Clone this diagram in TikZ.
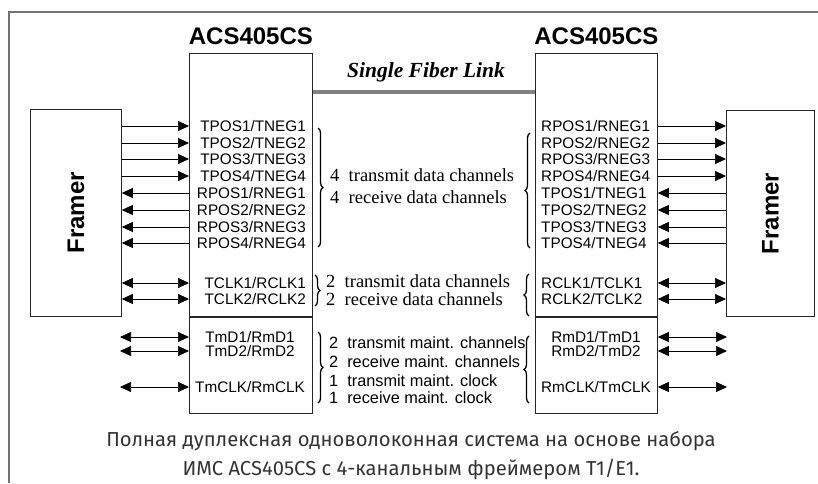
\documentclass[tikz,border=0pt]{standalone}
\usepackage{fontspec}
\setmainfont{Liberation Serif}
\newfontfamily\pinfont{Liberation Sans}
\newfontfamily\capfont{Fira Sans}
\usetikzlibrary{arrows.meta,decorations.pathreplacing,positioning}

\tikzset{
  box/.style={draw=black!85, line width=0.8pt, inner sep=0pt, anchor=north west},
  pin/.style={font=\pinfont\fontsize{15.3}{17}\selectfont, inner sep=0pt},
  sig/.style={line width=0.7pt, -{Triangle[length=11pt,width=10pt]}},
  bisig/.style={line width=0.7pt, {Triangle[length=11pt,width=10pt]}-{Triangle[length=11pt,width=10pt]}},
  brc/.style={decorate, decoration={brace, amplitude=5pt}, line width=1.3pt},
  note/.style={font=\fontsize{18.5}{20}\selectfont, anchor=west, inner sep=0pt},
  mnote/.style={font=\pinfont\fontsize{16.3}{18}\selectfont, anchor=west, inner sep=0pt},
  title/.style={font=\pinfont\bfseries\fontsize{24}{26}\selectfont, inner sep=0pt},
}

\begin{document}
\begin{tikzpicture}[x=1pt, y=-1pt]
\useasboundingbox (0,0) rectangle (818,483);
\draw[black!55, line width=1.5pt] (818,12) -- (9,12) -- (9,483);

% chips and framers
\node[box, minimum width=123pt, minimum height=263pt] (chipL) at (189,53) {};
\node[box, minimum width=123pt, minimum height=96pt] (mntL) at (chipL.south west) {};
\node[box, minimum width=122pt, minimum height=263pt] (chipR) at (535,53) {};
\node[box, minimum width=122pt, minimum height=96pt] (mntR) at (chipR.south west) {};
\node[box, minimum width=91pt, minimum height=207pt] (frL) at (30,109) {};
\node[box, minimum width=88pt, minimum height=206pt] (frR) at (726,110) {};
\node[title, rotate=90] (frLtxt) at (frL.center) {Framer};
\node[title, rotate=90] (frRtxt) at (frR.center) {Framer};
\node[title, above=8pt of chipL] (ttlL) {ACS405CS};
\node[title, above=8pt of chipR] (ttlR) {ACS405CS};

% fiber link
\node[font=\bfseries\itshape\fontsize{21.5}{22}\selectfont, inner sep=0pt] (fib) at (426,72) {Single Fiber Link};
\draw[line width=4pt, black!50] (chipL.east |- 0,92) -- (chipR.west |- 0,92);

% left data pins
\foreach \y/\a/\b [count=\i] in {126/TPOS1/TNEG1, 143/TPOS2/TNEG2, 159/TPOS3/TNEG3, 176/TPOS4/TNEG4}
  {\node[pin, anchor=east] (tl\i) at (306,\y) {\a/\b};
   \draw[sig] (frL.east |- tl\i) -- (chipL.west |- tl\i);}
\foreach \y/\a/\b [count=\i] in {193/RPOS1/RNEG1, 210/RPOS2/RNEG2, 227/RPOS3/RNEG3, 243/RPOS4/RNEG4}
  {\node[pin, anchor=east] (rl\i) at (306,\y) {\a/\b};
   \draw[sig] (chipL.west |- rl\i) -- (frL.east |- rl\i);}
\foreach \y/\a/\b [count=\i] in {283/TCLK1/RCLK1, 299/TCLK2/RCLK2}
  {\node[pin, anchor=east] (cl\i) at (306,\y) {\a/\b};
   \draw[bisig] (frL.east |- cl\i) -- (chipL.west |- cl\i);}

% right data pins
\foreach \y/\a/\b [count=\i] in {126/RPOS1/RNEG1, 143/RPOS2/RNEG2, 159/RPOS3/RNEG3, 176/RPOS4/RNEG4}
  {\node[pin, anchor=west] (rr\i) at (541,\y) {\a/\b};
   \draw[sig] (chipR.east |- rr\i) -- (frR.west |- rr\i);}
\foreach \y/\a/\b [count=\i] in {193/TPOS1/TNEG1, 210/TPOS2/TNEG2, 227/TPOS3/TNEG3, 243/TPOS4/TNEG4}
  {\node[pin, anchor=west] (tr\i) at (541,\y) {\a/\b};
   \draw[sig] (frR.west |- tr\i) -- (chipR.east |- tr\i);}
\foreach \y/\a/\b [count=\i] in {283/RCLK1/TCLK1, 299/RCLK2/TCLK2}
  {\node[pin, anchor=west] (cr\i) at (541,\y) {\a/\b};
   \draw[bisig] (chipR.east |- cr\i) -- (frR.west |- cr\i);}

% maintenance pins
\coordinate (mfL) at (120,0);
\coordinate (mfR) at (727,0);
\foreach \y/\a/\b [count=\i] in {337/TmD1/RmD1, 351/TmD2/RmD2, 387/TmCLK/RmCLK}
  {\node[pin] (ml\i) at (250,\y) {\a/\b};
   \draw[bisig] (mfL |- ml\i) -- (mntL.west |- ml\i);}
\foreach \y/\a/\b [count=\i] in {337/RmD1/TmD1, 351/RmD2/TmD2, 387/RmCLK/TmCLK}
  {\node[pin] (mr\i) at (596,\y) {\a/\b};
   \draw[bisig] (mntR.east |- mr\i) -- (mfR |- mr\i);}

% braces
\draw[brc] (318,128) -- (318,247);
\draw[brc] (530,248) -- (530,133);
\draw[brc] (315,275) -- (315,306);
\draw[brc] (529,316) -- (529,274);
\draw[brc] (318,332) -- (318,403);
\draw[brc] (529,403) -- (529,336);

% notes
\node[note] (dtx) at (330,175) {4\ \ transmit data channels};
\node[note] (drx) at (330,197) {4\ \ receive data channels};
\node[note] (ctx) at (326,281) {2\ \ transmit data channels};
\node[note] (crx) at (326,299) {2\ \ receive data channels};
\node[mnote] (mtx) at (329,343) {2\ \ transmit maint. channels};
\node[mnote] (mrx) at (329,362) {2\ \ receive maint. channels};
\node[mnote] (ktx) at (329,381) {1\ \ transmit maint. clock};
\node[mnote] (krx) at (329,398) {1\ \ receive maint. clock};

% caption
\node[font=\capfont\fontsize{20.2}{29}\selectfont, text=black!80, align=center] (cap) at (411,456)
  {Полная дуплексная одноволоконная система на основе набора\\ИМС ACS405CS с 4-канальным фреймером T1/E1.};
\end{tikzpicture}
\end{document}
